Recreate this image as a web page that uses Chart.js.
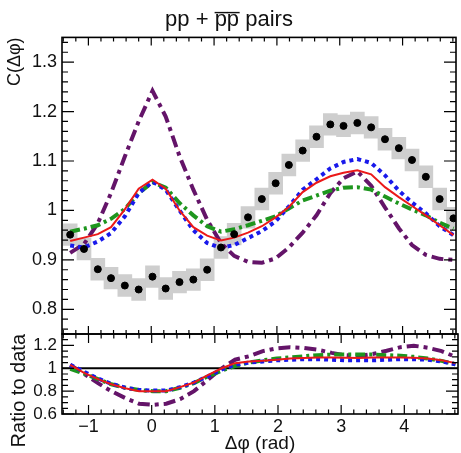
<!DOCTYPE html>
<html>
<head>
<meta charset="utf-8">
<script src="https://cdn.jsdelivr.net/npm/chart.js@4.4.1/dist/chart.umd.min.js"></script>
<style>
body { margin: 0; background: #fff; }
#wrap { position: relative; width: 461px; height: 453px; }
canvas { position: absolute; left: 0; }
#top { top: 0; }
#bottom { top: 300px; }
</style>
</head>
<body>
<div id="wrap">
<canvas id="top" width="461" height="350"></canvas>
<canvas id="bottom" width="461" height="153"></canvas>
</div>
<script>
// bin centres (rad)
var dphi = [-1.29, -1.07, -0.85, -0.64, -0.42, -0.20, 0.02, 0.23, 0.45, 0.67,
  0.89, 1.11, 1.32, 1.54, 1.76, 1.98, 2.19, 2.41, 2.63, 2.85,
  3.06, 3.28, 3.50, 3.72, 3.94, 4.15, 4.37, 4.59, 4.81];

var dataC = [0.951, 0.922, 0.881, 0.863, 0.848, 0.840, 0.866, 0.842, 0.855, 0.860,
  0.880, 0.925, 0.952, 0.986, 1.023, 1.055, 1.092, 1.121, 1.149, 1.174,
  1.171, 1.177, 1.168, 1.144, 1.126, 1.102, 1.068, 1.023, 0.984];
var sysErr = 0.022;

var redC = [0.938, 0.945, 0.952, 0.966, 1.002, 1.044, 1.062, 1.044, 1.000, 0.966,
  0.949, 0.939, 0.945, 0.955, 0.968, 0.986, 1.007, 1.037, 1.056, 1.069,
  1.076, 1.081, 1.073, 1.047, 1.027, 1.009, 0.990, 0.970, 0.950];
var blueC = [0.929, 0.925, 0.937, 0.954, 0.988, 1.035, 1.058, 1.042, 1.000, 0.960,
  0.934, 0.924, 0.930, 0.944, 0.958, 0.978, 1.008, 1.042, 1.063, 1.085,
  1.098, 1.104, 1.096, 1.071, 1.040, 1.016, 0.994, 0.968, 0.950];
var greenC = [0.957, 0.963, 0.970, 0.983, 1.003, 1.035, 1.057, 1.046, 1.015, 0.990,
  0.968, 0.957, 0.962, 0.970, 0.979, 0.988, 1.004, 1.020, 1.030, 1.040,
  1.046, 1.047, 1.042, 1.028, 1.014, 1.002, 0.990, 0.975, 0.963];
var purpleC = [0.914, 0.932, 0.974, 1.035, 1.109, 1.180, 1.242, 1.190, 1.110, 1.042,
  0.981, 0.934, 0.908, 0.896, 0.894, 0.903, 0.925, 0.955, 0.990, 1.035,
  1.065, 1.079, 1.050, 1.006, 0.964, 0.930, 0.910, 0.902, 0.900];

// ratio panel
var redR = [1.03, 0.96, 0.905, 0.86, 0.825, 0.80, 0.80, 0.80, 0.835, 0.875,
  0.94, 1.00, 1.045, 1.06, 1.065, 1.075, 1.085, 1.09, 1.095, 1.095,
  1.092, 1.09, 1.095, 1.095, 1.095, 1.092, 1.085, 1.07, 1.045];
var blueR = [1.03, 0.97, 0.91, 0.865, 0.83, 0.81, 0.805, 0.805, 0.835, 0.875,
  0.93, 0.99, 1.03, 1.05, 1.06, 1.07, 1.075, 1.08, 1.08, 1.075,
  1.07, 1.07, 1.07, 1.075, 1.08, 1.08, 1.075, 1.06, 1.035];
var greenR = [0.995, 0.955, 0.905, 0.86, 0.83, 0.81, 0.80, 0.80, 0.83, 0.87,
  0.93, 0.98, 1.02, 1.05, 1.07, 1.085, 1.095, 1.105, 1.115, 1.12,
  1.12, 1.12, 1.12, 1.115, 1.11, 1.10, 1.085, 1.065, 1.035];
var purpleR = [1.03, 0.95, 0.87, 0.80, 0.74, 0.69, 0.68, 0.69, 0.73, 0.80,
  0.90, 1.00, 1.075, 1.105, 1.15, 1.175, 1.185, 1.178, 1.162, 1.135,
  1.115, 1.108, 1.125, 1.153, 1.185, 1.198, 1.18, 1.15, 1.10];

var xMin = -1.42, xMax = 4.85;
var xTicks = [-1, 0, 1, 2, 3, 4];
var yTicksTop = [0.8, 0.9, 1, 1.1, 1.2, 1.3];
var yTicksBottom = [0.6, 0.8, 1, 1.2];

var font = 'Liberation Sans, Arial, Helvetica, sans-serif';

function xy(ys) {
  return dphi.map(function(x, i) { return {x: x, y: ys[i]}; });
}

function curve(ys, color, width, dash) {
  return {type: 'line', data: xy(ys), borderColor: color, borderWidth: width,
    borderDash: dash, pointRadius: 0, tension: 0, fill: false, order: 2};
}

function tickList(vals) {
  return function(scale) { scale.ticks = vals.map(function(v) { return {value: v}; }); };
}

function minusLabel(v) {
  return v < 0 ? '\u2212' + Math.abs(v) : String(v);
}

// ROOT style frame with ticks inside on all four sides
var rootFrame = {
  id: 'rootFrame',
  afterDraw: function(chart, args, opts) {
    var ctx = chart.ctx, a = chart.chartArea;
    var xs = chart.scales.x, ys = chart.scales.y;
    ctx.save();
    ctx.strokeStyle = '#000';
    ctx.lineWidth = 1.2;
    ctx.beginPath();
    var n, v, p, len;
    for (n = Math.ceil(xs.min / opts.xMinor); n * opts.xMinor <= xs.max; n++) {
      v = n * opts.xMinor;
      len = Math.abs(v - Math.round(v)) < 1e-6 ? opts.xLen : opts.xLen / 2;
      p = xs.getPixelForValue(v);
      ctx.moveTo(p, a.bottom); ctx.lineTo(p, a.bottom - len);
      ctx.moveTo(p, a.top); ctx.lineTo(p, a.top + len);
    }
    for (n = Math.ceil(ys.min / opts.yMinor - 1e-6); n * opts.yMinor <= ys.max + 1e-9; n++) {
      v = n * opts.yMinor;
      len = Math.abs(v / opts.yMajor - Math.round(v / opts.yMajor)) < 1e-6 ? opts.yLen : opts.yLen / 2;
      p = ys.getPixelForValue(v);
      ctx.moveTo(a.left, p); ctx.lineTo(a.left + len, p);
      ctx.moveTo(a.right, p); ctx.lineTo(a.right - len, p);
    }
    ctx.stroke();
    ctx.lineWidth = 1.6;
    ctx.strokeRect(a.left, a.top, a.right - a.left, a.bottom - a.top);
    ctx.restore();
  }
};

var red = 'rgb(235,25,25)', blue = 'rgb(25,25,235)', green = 'rgb(30,150,30)', purple = 'rgb(100,20,105)';

new Chart(document.getElementById('top'), {
  type: 'line',
  data: {
    datasets: [
      {type: 'line', data: xy(dataC), showLine: false, pointRadius: 3.5,
        pointBackgroundColor: '#000', pointBorderColor: '#000', order: 0},
      curve(redC, red, 2, []),
      curve(blueC, blue, 4, [4, 4]),
      curve(greenC, green, 4, [10, 4, 3, 4]),
      curve(purpleC, purple, 4, [12, 5, 4, 5]),
      {type: 'bar', data: dphi.map(function(x, i) { return {x: x, y: [dataC[i] - sysErr, dataC[i] + sysErr]}; }),
        backgroundColor: 'rgb(206,206,206)', borderWidth: 0, barThickness: 14, grouped: false, order: 10}
    ]
  },
  options: {
    responsive: false,
    animation: false,
    layout: {padding: {top: 0, left: 0, right: 3, bottom: 16}},
    plugins: {
      legend: {display: false},
      tooltip: {enabled: false},
      title: {display: true, text: 'pp + p\u0305p\u0305 pairs', color: '#111',
        font: {family: font, size: 22, weight: 'normal', lineHeight: 1.2}, padding: {top: 7, bottom: 4}},
      rootFrame: {xMinor: 0.2, xLen: 8, yMinor: 0.02, yMajor: 0.1, yLen: 12}
    },
    scales: {
      x: {type: 'linear', min: xMin, max: xMax, offset: false, display: false},
      y: {
        min: 0.75, max: 1.35,
        afterBuildTicks: tickList(yTicksTop),
        afterFit: function(scale) { scale.width = 62; },
        grid: {display: false, drawTicks: false},
        border: {display: false},
        ticks: {color: '#111', padding: 5, font: {family: font, size: 18}, callback: function(v) { return String(v); }},
        title: {display: true, text: 'C(\u0394\u03c6)', align: 'end', color: '#111',
          font: {family: font, size: 18}, padding: {top: 4, bottom: 0}}
      }
    }
  },
  plugins: [rootFrame]
});

new Chart(document.getElementById('bottom'), {
  type: 'line',
  data: {
    datasets: [
      {type: 'line', data: [{x: xMin, y: 1}, {x: xMax, y: 1}], borderColor: '#000', borderWidth: 2,
        pointRadius: 0, order: 5},
      curve(redR, red, 2, []),
      curve(blueR, blue, 4, [4, 4]),
      curve(greenR, green, 4, [10, 4, 3, 4]),
      curve(purpleR, purple, 4, [12, 5, 4, 5])
    ]
  },
  options: {
    responsive: false,
    animation: false,
    layout: {padding: {top: 34, left: 0, right: 3, bottom: 0}},
    plugins: {
      legend: {display: false},
      tooltip: {enabled: false},
      rootFrame: {xMinor: 0.2, xLen: 9, yMinor: 0.05, yMajor: 0.2, yLen: 12}
    },
    scales: {
      x: {
        type: 'linear', min: xMin, max: xMax, offset: false,
        afterBuildTicks: tickList(xTicks),
        afterFit: function(scale) { scale.height = 39; },
        grid: {display: false, drawTicks: false},
        border: {display: false},
        ticks: {color: '#111', padding: 2, maxRotation: 0, font: {family: font, size: 18}, callback: minusLabel},
        title: {display: true, text: '\u0394\u03c6 (rad)', color: '#111',
          font: {family: font, size: 19, lineHeight: 1.0}, padding: {top: 0, bottom: 0}}
      },
      y: {
        min: 0.6, max: 1.3,
        afterBuildTicks: tickList(yTicksBottom),
        afterFit: function(scale) { scale.width = 62; },
        grid: {display: false, drawTicks: false},
        border: {display: false},
        ticks: {color: '#111', padding: 5, font: {family: font, size: 17}, callback: function(v) { return String(v); }},
        title: {display: true, text: 'Ratio to data', align: 'end', color: '#111',
          font: {family: font, size: 20}, padding: {top: 7, bottom: 0}}
      }
    }
  },
  plugins: [rootFrame]
});
</script>
</body>
</html>
